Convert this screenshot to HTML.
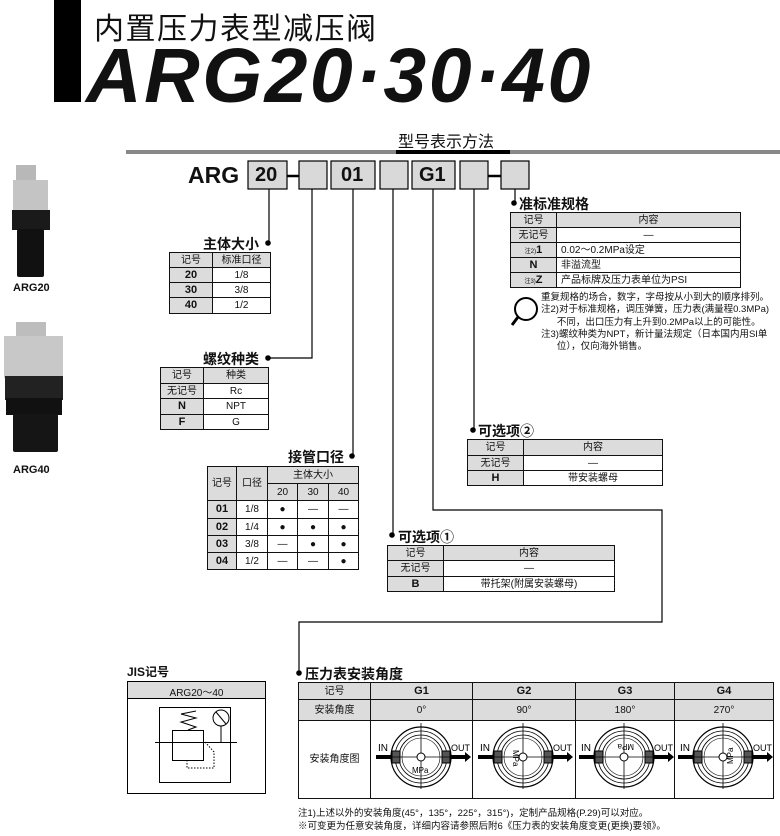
<!DOCTYPE html>
<html><head><meta charset="utf-8"><style>
*{margin:0;padding:0;box-sizing:border-box}
body{width:780px;height:836px;position:relative;background:#fff;font-family:"Liberation Sans","Noto Sans CJK SC",sans-serif;color:#111;overflow:hidden}
.a{position:absolute;white-space:nowrap}
table{position:absolute;border-collapse:collapse;table-layout:fixed;font-size:10px}
td{border:1px solid #111;text-align:center;padding:0;line-height:1.1;overflow:hidden;vertical-align:middle}
.g{background:#dcdcdc}
.b{font-weight:bold;font-size:11px}
.l{text-align:left;padding-left:4px}
.t{font-size:14px;font-weight:bold}
</style></head><body>

<div class="a" style="left:54px;top:0;width:27px;height:102px;background:#000"></div>
<div class="a" style="left:94px;top:4px;font-size:30px;letter-spacing:1.5px">内置压力表型减压阀</div>
<div class="a" style="left:86px;top:30px;font-size:77px;font-weight:bold;font-style:italic;letter-spacing:2.5px;line-height:1.2">ARG20·30·40</div>

<div class="a" style="left:398px;top:128px;font-size:16px">型号表示方法</div>

<svg class="a" style="left:0;top:0" width="780" height="836">
<rect x="126" y="150" width="654" height="4" fill="#888"/>
<rect x="396" y="150" width="114" height="4" fill="#000"/>
<g fill="#d9d9d9" stroke="#000" stroke-width="1.2">
<rect x="248" y="161" width="39" height="28"/>
<rect x="299" y="161" width="28" height="28"/>
<rect x="331" y="161" width="44" height="28"/>
<rect x="380" y="161" width="28" height="28"/>
<rect x="412" y="161" width="43" height="28"/>
<rect x="460" y="161" width="28" height="28"/>
<rect x="501" y="161" width="28" height="28"/>
</g>
<g stroke="#000" stroke-width="2.5"><line x1="287" y1="176" x2="299" y2="176"/><line x1="488" y1="176" x2="501" y2="176"/></g>
<g stroke="#000" stroke-width="1.2" fill="none">
<polyline points="269,189 269,243"/>
<polyline points="312,189 312,358 268,358"/>
<polyline points="353,189 353,456"/>
<polyline points="393,189 393,535"/>
<polyline points="433,189 433,510 662,510 662,622 299,622 299,672"/>
<polyline points="474,189 474,430"/>
<polyline points="515,189 515,203"/>
</g>
<g fill="#000">
<circle cx="268" cy="243" r="2.8"/><circle cx="268" cy="358" r="2.8"/><circle cx="352" cy="456" r="2.8"/>
<circle cx="392" cy="535" r="2.8"/><circle cx="473" cy="430" r="2.8"/><circle cx="514" cy="203" r="2.8"/>
<circle cx="299" cy="673" r="2.8"/>
</g>
<rect x="16" y="165" width="20" height="18" fill="#b8b8b8"/>
<rect x="13" y="180" width="35" height="32" fill="#c4c4c4"/>
<rect x="12" y="210" width="38" height="20" fill="#1a1a1a"/>
<rect x="17" y="229" width="27" height="48" rx="2" fill="#111"/>
<rect x="16" y="322" width="30" height="18" fill="#bdbdbd"/>
<rect x="4" y="336" width="59" height="42" fill="#c8c8c8"/>
<rect x="5" y="376" width="58" height="24" fill="#222"/>
<rect x="6" y="398" width="56" height="17" fill="#111"/>
<rect x="13" y="414" width="45" height="38" rx="2" fill="#151515"/>
<circle cx="526" cy="309" r="11" fill="none" stroke="#000" stroke-width="2"/>
<line x1="518" y1="317" x2="512" y2="325" stroke="#000" stroke-width="3"/>
<rect x="127.5" y="681.5" width="138" height="112" fill="none" stroke="#000"/>
<rect x="128" y="682" width="137" height="16" fill="#dcdcdc"/>
<line x1="128" y1="698.5" x2="265" y2="698.5" stroke="#000"/>
<g stroke="#000" fill="none" stroke-width="1">
<rect x="159.5" y="707.5" width="71" height="75"/>
<rect x="172.5" y="730.5" width="31" height="30" fill="#fff"/>
<line x1="155" y1="742.5" x2="237" y2="742.5"/>
<polyline points="188,730 196,727 181,722 196,718 181,714 196,711"/>
<circle cx="221" cy="718" r="8" fill="#fff"/>
<line x1="216" y1="712" x2="226" y2="724"/>
<line x1="221" y1="726" x2="221" y2="742"/>
<polyline points="205,742 214,752 214,768 187,768 187,760" stroke-dasharray="1.5,1.5"/>
</g>
<defs>
<g id="gg">
<line x1="-45" y1="0" x2="-26" y2="0" stroke="#000" stroke-width="4"/>
<polygon points="-28,-5 -22,0 -28,5" fill="#000"/>
<line x1="26" y1="0" x2="45" y2="0" stroke="#000" stroke-width="4"/>
<polygon points="44,-5 50,0 44,5" fill="#000"/>
<circle r="30" fill="#fff" stroke="#000" stroke-width="1.2"/>
<circle r="26" fill="none" stroke="#000" stroke-width="0.8"/>
<circle r="22" fill="none" stroke="#000" stroke-width="0.8"/>
<circle r="19" fill="none" stroke="#000" stroke-width="0.6"/>
<rect x="-29" y="-6" width="8" height="12" fill="#555" stroke="#000"/>
<rect x="21" y="-6" width="8" height="12" fill="#555" stroke="#000"/>
<line x1="-30" y1="0" x2="30" y2="0" stroke="#000" stroke-width="0.8"/>
<line x1="0" y1="-34" x2="0" y2="32" stroke="#000" stroke-width="0.8"/>
<circle r="4" fill="#fff" stroke="#000"/>
<text x="-43" y="-6" font-size="10" font-family="Liberation Sans">IN</text>
<text x="30" y="-6" font-size="9" font-family="Liberation Sans">OUT</text>
</g>
</defs>
</svg>

<div class="a" style="left:188px;top:162px;font-size:23px;font-weight:bold">ARG</div>
<div class="a" style="left:255px;top:164px;font-size:20px;font-weight:bold">20</div>
<div class="a" style="left:341px;top:164px;font-size:20px;font-weight:bold">01</div>
<div class="a" style="left:419px;top:164px;font-size:20px;font-weight:bold">G1</div>

<div class="a" style="left:13px;top:282px;font-size:11px;font-weight:bold">ARG20</div>
<div class="a" style="left:13px;top:464px;font-size:11px;font-weight:bold">ARG40</div>

<div class="a t" style="left:203px;top:234px">主体大小</div>
<table style="left:169px;top:252px;width:101px"><col style="width:43px"><col style="width:58px">
<tr style="height:15px"><td class="g">记号</td><td class="g">标准口径</td></tr>
<tr style="height:15px"><td class="g b">20</td><td>1/8</td></tr>
<tr style="height:15px"><td class="g b">30</td><td>3/8</td></tr>
<tr style="height:16px"><td class="g b">40</td><td>1/2</td></tr></table>

<div class="a t" style="left:203px;top:349px">螺纹种类</div>
<table style="left:160px;top:367px;width:108px"><col style="width:43px"><col style="width:65px">
<tr style="height:16px"><td class="g">记号</td><td class="g">种类</td></tr>
<tr style="height:15px"><td class="g">无记号</td><td>Rc</td></tr>
<tr style="height:16px"><td class="g b">N</td><td>NPT</td></tr>
<tr style="height:15px"><td class="g b">F</td><td>G</td></tr></table>

<div class="a t" style="left:288px;top:447px">接管口径</div>
<table style="left:207px;top:466px;width:151px"><col style="width:29px"><col style="width:31px"><col style="width:30px"><col style="width:31px"><col style="width:30px">
<tr style="height:17px"><td class="g" rowspan="2">记号</td><td class="g" rowspan="2">口径</td><td class="g" colspan="3">主体大小</td></tr>
<tr style="height:17px"><td class="g">20</td><td class="g">30</td><td class="g">40</td></tr>
<tr style="height:18px"><td class="g b">01</td><td>1/8</td><td>●</td><td>—</td><td>—</td></tr>
<tr style="height:17px"><td class="g b">02</td><td>1/4</td><td>●</td><td>●</td><td>●</td></tr>
<tr style="height:17px"><td class="g b">03</td><td>3/8</td><td>—</td><td>●</td><td>●</td></tr>
<tr style="height:17px"><td class="g b">04</td><td>1/2</td><td>—</td><td>—</td><td>●</td></tr></table>

<div class="a t" style="left:398px;top:527px">可选项①</div>
<table style="left:387px;top:545px;width:227px"><col style="width:56px"><col style="width:171px">
<tr style="height:15px"><td class="g">记号</td><td class="g">内容</td></tr>
<tr style="height:16px"><td class="g">无记号</td><td>—</td></tr>
<tr style="height:15px"><td class="g b">B</td><td>带托架(附属安装螺母)</td></tr></table>

<div class="a t" style="left:478px;top:421px">可选项②</div>
<table style="left:467px;top:439px;width:195px"><col style="width:56px"><col style="width:139px">
<tr style="height:16px"><td class="g">记号</td><td class="g">内容</td></tr>
<tr style="height:15px"><td class="g">无记号</td><td>—</td></tr>
<tr style="height:15px"><td class="g b">H</td><td>带安装螺母</td></tr></table>

<div class="a t" style="left:519px;top:194px">准标准规格</div>
<table style="left:510px;top:212px;width:230px"><col style="width:46px"><col style="width:184px">
<tr style="height:15px"><td class="g">记号</td><td class="g">内容</td></tr>
<tr style="height:15px"><td class="g">无记号</td><td>—</td></tr>
<tr style="height:15px"><td class="g b"><span style="font-size:6px;font-weight:normal">注2)</span>1</td><td class="l">0.02～0.2MPa设定</td></tr>
<tr style="height:15px"><td class="g b">N</td><td class="l">非溢流型</td></tr>
<tr style="height:15px"><td class="g b"><span style="font-size:6px;font-weight:normal">注3)</span>Z</td><td class="l">产品标牌及压力表单位为PSI</td></tr></table>

<div class="a" style="left:541px;top:292px;font-size:9.5px;line-height:12.3px">重复规格的场合，数字，字母按从小到大的顺序排列。<br>注2)对于标准规格，调压弹簧，压力表(满量程0.3MPa)<br>&nbsp;&nbsp;&nbsp;&nbsp;&nbsp;&nbsp;不同，出口压力有上升到0.2MPa以上的可能性。<br>注3)螺纹种类为NPT，新计量法规定（日本国内用SI单<br>&nbsp;&nbsp;&nbsp;&nbsp;&nbsp;&nbsp;位），仅向海外销售。</div>

<div class="a" style="left:127px;top:663px;font-size:12px;font-weight:bold">JIS记号</div>
<div class="a" style="left:128px;top:684px;width:137px;text-align:center;font-size:10px">ARG20～40</div>

<div class="a t" style="left:305px;top:664px">压力表安装角度</div>
<table style="left:298px;top:682px;width:475px"><col style="width:72px"><col style="width:102px"><col style="width:103px"><col style="width:99px"><col style="width:99px">
<tr style="height:17px"><td class="g">记号</td><td class="g b">G1</td><td class="g b">G2</td><td class="g b">G3</td><td class="g b">G4</td></tr>
<tr style="height:21px"><td class="g">安装角度</td><td class="g">0°</td><td class="g">90°</td><td class="g">180°</td><td class="g">270°</td></tr>
<tr style="height:78px"><td>安装角度图</td><td></td><td></td><td></td><td></td></tr></table>
<svg class="a" style="left:0;top:0;pointer-events:none" width="780" height="836">
<use href="#gg" x="421" y="757"/><use href="#gg" x="523" y="757"/><use href="#gg" x="624" y="757"/><use href="#gg" x="723" y="757"/>
<g font-size="8" font-family="Liberation Sans" fill="#000">
<text x="412" y="773">MPa</text>
<text transform="translate(513,750) rotate(90)">MPa</text>
<text transform="translate(634,744) rotate(180)">MPa</text>
<text transform="translate(733,764) rotate(-90)">MPa</text>
</g></svg>

<div class="a" style="left:298px;top:807px;font-size:9.5px;line-height:13px">注1)上述以外的安装角度(45°，135°，225°，315°)，定制产品规格(P.29)可以对应。<br>※可变更为任意安装角度，详细内容请参照后附6《压力表的安装角度变更(更换)要领》。</div>
</body></html>
